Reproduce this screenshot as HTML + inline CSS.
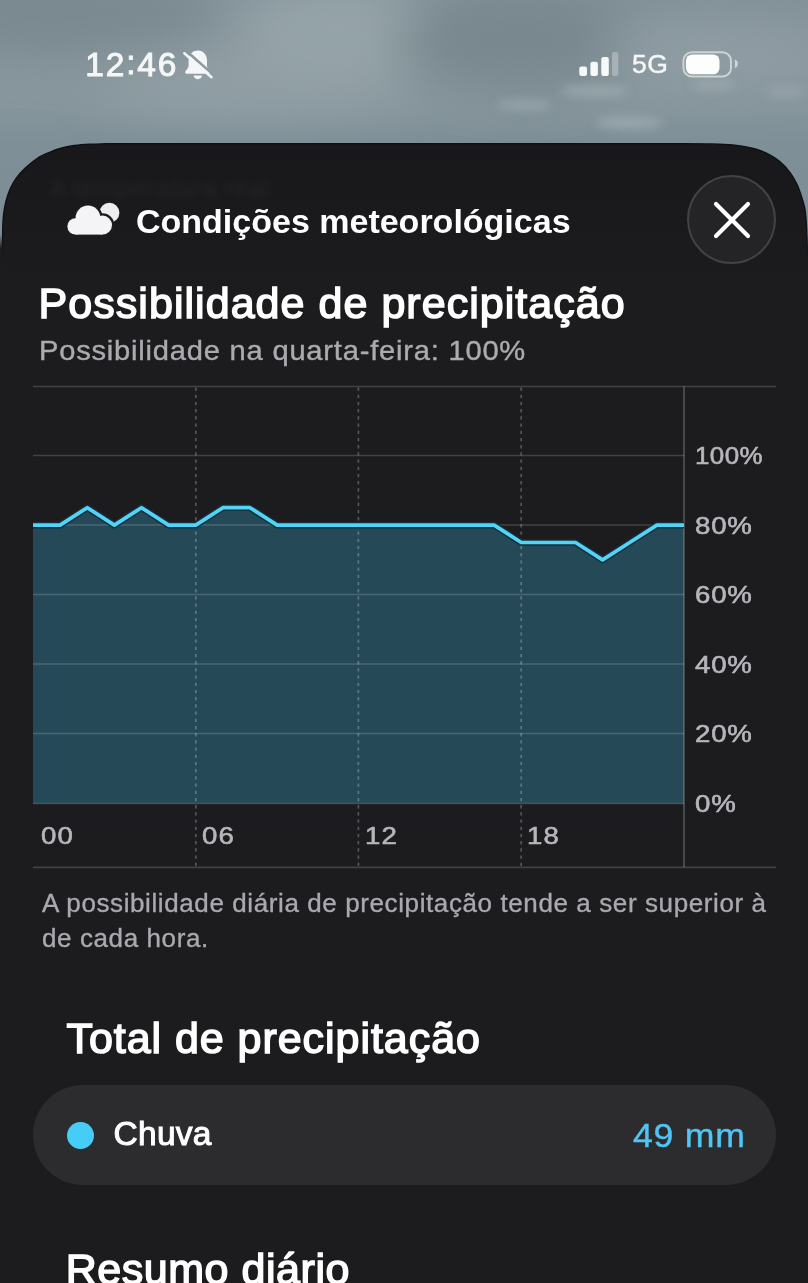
<!DOCTYPE html>
<html><head><meta charset="utf-8">
<style>
html,body{margin:0;padding:0;}
body{width:808px;height:1283px;overflow:hidden;position:relative;background:#8a989e;font-family:"Liberation Sans",sans-serif;}
.abs{position:absolute;white-space:nowrap;line-height:1;}
#sky{position:absolute;left:0;top:0;width:808px;height:1283px;}
</style></head><body>
<svg id="sky" width="808" height="1283" viewBox="0 0 808 1283">
<defs>
<linearGradient id="sg" x1="0" y1="0" x2="0" y2="1283" gradientUnits="userSpaceOnUse">
<stop offset="0" stop-color="#86949b"/><stop offset="0.05" stop-color="#8b999f"/><stop offset="0.085" stop-color="#87969d"/><stop offset="0.112" stop-color="#7e8f97"/><stop offset="0.183" stop-color="#7c8d96"/><stop offset="0.189" stop-color="#454c51"/><stop offset="0.194" stop-color="#1c1c1e"/><stop offset="1" stop-color="#1c1c1e"/>
</linearGradient>
<filter id="b1" x="-50%" y="-80%" width="200%" height="260%"><feGaussianBlur stdDeviation="24"/></filter>
<filter id="b2" x="-50%" y="-100%" width="200%" height="300%"><feGaussianBlur stdDeviation="5"/></filter>
</defs>
<rect width="808" height="1283" fill="url(#sg)"/>
<g filter="url(#b1)">
<ellipse cx="50" cy="15" rx="170" ry="45" fill="#78878e" opacity="0.850"/>
<ellipse cx="340" cy="30" rx="100" ry="48" fill="#97a5ab" opacity="0.900"/>
<ellipse cx="250" cy="85" rx="150" ry="30" fill="#93a1a7" opacity="0.800"/>
<ellipse cx="520" cy="40" rx="125" ry="52" fill="#76858c" opacity="0.850"/>
<ellipse cx="720" cy="0" rx="120" ry="22" fill="#7a8990" opacity="0.700"/>
<ellipse cx="710" cy="45" rx="110" ry="32" fill="#919fa5" opacity="0.800"/>
</g>
<g filter="url(#b2)" fill="#a3b0b5">
<ellipse cx="594" cy="91" rx="34" ry="5.500" opacity="0.700"/>
<ellipse cx="524" cy="105" rx="27" ry="5" opacity="0.600"/>
<ellipse cx="629" cy="123" rx="34" ry="6" opacity="0.700"/>
<ellipse cx="714" cy="85" rx="22" ry="5" opacity="0.600"/>
<ellipse cx="785" cy="92" rx="20" ry="5" opacity="0.500"/>
</g>
</svg>
<svg class="abs" id="sheet" style="left:0;top:0" width="808" height="1283" viewBox="0 0 808 1283">
<defs><linearGradient id="shg" x1="0" y1="143" x2="0" y2="290" gradientUnits="userSpaceOnUse"><stop offset="0" stop-color="#18181a"/><stop offset="1" stop-color="#1c1c1e"/></linearGradient><linearGradient id="edg" x1="0" y1="143" x2="0" y2="300" gradientUnits="userSpaceOnUse"><stop offset="0" stop-color="#0d1114"/><stop offset="0.6" stop-color="#0d1114"/><stop offset="0.75" stop-color="#1c1c1e"/><stop offset="1" stop-color="#1c1c1e"/></linearGradient></defs>
<path d="M2.6 300.0C2.6 293.7 2.6 272.0 2.6 262.0C2.6 252.0 2.6 245.9 2.6 240.0C2.6 234.1 2.6 230.9 2.8 226.6C3.0 222.3 3.1 218.3 3.6 214.2C4.1 210.1 4.8 205.9 5.8 201.8C6.8 197.7 8.2 193.4 9.9 189.5C11.6 185.6 13.6 181.8 16.1 178.3C18.6 174.8 21.3 171.7 24.8 168.4C28.3 165.1 33.0 161.2 37.1 158.5C41.2 155.8 45.4 154.1 49.5 152.3C53.6 150.6 57.8 149.1 61.9 148.0C66.0 146.9 69.6 146.1 74.3 145.5C79.0 144.9 84.7 144.5 90.0 144.2C95.3 143.9 100.2 143.9 106.0 143.8C111.8 143.7 121.8 143.7 125.0 143.7L683.0 143.7C687.2 143.7 699.7 143.7 708.0 143.9C716.3 144.1 725.6 144.2 732.8 144.9C740.0 145.6 745.5 146.6 751.3 148.0C757.1 149.4 762.6 151.3 767.4 153.6C772.1 155.9 776.1 158.5 779.8 161.6C783.5 164.7 786.8 168.3 789.7 172.1C792.6 175.9 795.1 180.4 797.1 184.5C799.1 188.6 800.3 193.0 801.6 196.9C802.9 200.8 803.9 203.9 804.7 208.0C805.5 212.1 805.8 216.3 806.2 221.6C806.6 226.9 806.8 233.3 806.9 240.0C807.0 246.7 807.0 252.0 807.0 262.0C807.0 272.0 807.0 293.7 807.0 300.0V1283H2.6Z" fill="url(#shg)"/>
<path d="M2.6 300.0C2.6 293.7 2.6 272.0 2.6 262.0C2.6 252.0 2.6 245.9 2.6 240.0C2.6 234.1 2.6 230.9 2.8 226.6C3.0 222.3 3.1 218.3 3.6 214.2C4.1 210.1 4.8 205.9 5.8 201.8C6.8 197.7 8.2 193.4 9.9 189.5C11.6 185.6 13.6 181.8 16.1 178.3C18.6 174.8 21.3 171.7 24.8 168.4C28.3 165.1 33.0 161.2 37.1 158.5C41.2 155.8 45.4 154.1 49.5 152.3C53.6 150.6 57.8 149.1 61.9 148.0C66.0 146.9 69.6 146.1 74.3 145.5C79.0 144.9 84.7 144.5 90.0 144.2C95.3 143.9 100.2 143.9 106.0 143.8C111.8 143.7 121.8 143.7 125.0 143.7L683.0 143.7C687.2 143.7 699.7 143.7 708.0 143.9C716.3 144.1 725.6 144.2 732.8 144.9C740.0 145.6 745.5 146.6 751.3 148.0C757.1 149.4 762.6 151.3 767.4 153.6C772.1 155.9 776.1 158.5 779.8 161.6C783.5 164.7 786.8 168.3 789.7 172.1C792.6 175.9 795.1 180.4 797.1 184.5C799.1 188.6 800.3 193.0 801.6 196.9C802.9 200.8 803.9 203.9 804.7 208.0C805.5 212.1 805.8 216.3 806.2 221.6C806.6 226.9 806.8 233.3 806.9 240.0C807.0 246.7 807.0 252.0 807.0 262.0C807.0 272.0 807.0 293.7 807.0 300.0" fill="none" stroke="url(#edg)" stroke-width="1.400"/>
</svg>
<div class="abs" id="ghost" style="left:50px;top:176px;font-size:25px;color:#fff;opacity:0.042;filter:blur(3px);letter-spacing:0.800px;">A temperatura real</div>

<!-- status bar -->
<div class="abs" id="time" style="left:85.300px;top:47.600px;font-size:33.500px;color:#f4f6f7;letter-spacing:1.820px;-webkit-text-stroke:1px #f4f6f7;">12<span style="position:relative;top:-1.800px">:</span>46</div>
<svg class="abs" id="bell" style="left:182px;top:49px" width="32" height="32" viewBox="0 0 32 32">
<defs><mask id="bm"><rect width="32" height="32" fill="#fff"/><line x1="2.600" y1="0.400" x2="31.500" y2="25.800" stroke="#000" stroke-width="2.600"/></mask></defs>
<g fill="#f4f6f7" mask="url(#bm)">
<path d="M15.800 1.500C10 1.500 6.600 6 6.600 11.500V16.500C6.600 18.500 5.500 20 3.600 22C2.600 23.200 3.200 24.800 4.800 24.800H26.800C28.400 24.800 29 23.200 28 22C26.100 20 25 18.500 25 16.500V11.500C25 6 21.600 1.500 15.800 1.500Z"/>
<path d="M11.600 26.600H20C20 28.600 18.200 30.200 15.800 30.200S11.600 28.600 11.600 26.600Z"/>
</g>
<line x1="2.300" y1="4.200" x2="29.500" y2="28.200" stroke="#f4f6f7" stroke-width="2.500" stroke-linecap="round"/>
</svg>
<svg class="abs" id="sig" style="left:576px;top:48px" width="48" height="32" viewBox="0 0 48 32">
<rect x="3.300" y="18.500" width="7.700" height="9.500" rx="2" fill="#f6f8f9"/>
<rect x="14.400" y="13.800" width="7.500" height="14.200" rx="2" fill="#f6f8f9"/>
<rect x="25.300" y="9" width="7.500" height="19" rx="2" fill="#f6f8f9"/>
<rect x="36" y="4" width="6.300" height="24" rx="2" fill="#f6f8f9" opacity="0.300"/>
</svg>
<div class="abs" id="fiveg" style="left:632px;top:51px;font-size:26.500px;color:#f4f6f7;-webkit-text-stroke:0.450px #f4f6f7;letter-spacing:0.500px;">5G</div>
<svg class="abs" id="bat" style="left:680px;top:48px" width="62" height="32" viewBox="0 0 62 32">
<rect x="3.400" y="4.200" width="47.600" height="24.400" rx="8.600" fill="none" stroke="#f6f8f9" stroke-opacity="0.600" stroke-width="2"/>
<rect x="5.900" y="6.500" width="33.600" height="19.800" rx="6.300" fill="#fcfdfd"/>
<path d="M54.800 11.600v8.600c1.900-.5 3-2.200 3-4.300s-1.100-3.800-3-4.300z" fill="#f6f8f9" opacity="0.600"/>
</svg>

<!-- header -->
<svg class="abs" id="cloud" style="left:64px;top:198px" width="60" height="44" viewBox="0 0 60 44">
<circle cx="45.400" cy="14.800" r="10" fill="#ededf0"/>
<g fill="#1c1c1e" stroke="#1c1c1e" stroke-width="4.600">
<circle cx="11.600" cy="28.400" r="8.200"/><circle cx="24" cy="20" r="12.400"/><circle cx="38.500" cy="27.100" r="9.500"/><rect x="11.600" y="22" width="26.900" height="14.600"/>
</g>
<g fill="#f4f4f6">
<circle cx="11.600" cy="28.400" r="8.200"/><circle cx="24" cy="20" r="12.400"/><circle cx="38.500" cy="27.100" r="9.500"/><rect x="11.600" y="22" width="26.900" height="14.600"/>
</g>
</svg>
<div class="abs" id="hdr" style="left:136px;top:203.600px;font-size:34px;font-weight:bold;color:#fff;">Condições meteorológicas</div>
<div class="abs" id="close" style="left:687.300px;top:175.300px;width:89px;height:89px;border-radius:50%;background:#242426;border:2px solid #434346;box-sizing:border-box;"></div>
<svg class="abs" style="left:687.800px;top:175.800px" width="88" height="88" viewBox="0 0 88 88">
<path d="M28 28L60 60M60 28L28 60" stroke="#fff" stroke-width="4.200" stroke-linecap="round"/>
</svg>

<div class="abs" id="t1" style="left:38.600px;top:282.350px;font-size:43px;letter-spacing:1.040px;color:#fff;-webkit-text-stroke:1.500px #fff;">Possibilidade de precipitação</div>
<div class="abs" id="t2" style="left:39px;top:336.700px;font-size:28px;letter-spacing:0.750px;transform:scaleX(1.040);transform-origin:0 0;color:#aaaab0;-webkit-text-stroke:0.400px #aaaab0;">Possibilidade na quarta-feira: 100%</div>

<!-- chart -->
<svg class="abs" id="chart" style="left:0;top:380px" width="808" height="500" viewBox="0 380 808 500">
<polygon id="area" points="33.00,525.10 60.12,525.10 87.25,507.70 114.38,525.10 141.50,507.70 168.62,525.10 195.75,525.10 222.88,507.70 250.00,507.70 277.12,525.10 304.25,525.10 331.38,525.10 358.50,525.10 385.62,525.10 412.75,525.10 439.88,525.10 467.00,525.10 494.12,525.10 521.25,542.50 548.38,542.50 575.50,542.50 602.62,559.90 629.75,542.50 656.88,525.10 684.00,525.10 684,803.5 33,803.5" fill="#254957"/>
<g stroke="#fff" stroke-opacity="0.170" stroke-width="1.700">
<line x1="33" y1="386.500" x2="776" y2="386.500"/>
<line x1="33" y1="455.500" x2="684" y2="455.500"/>
<line x1="33" y1="525" x2="684" y2="525"/>
<line x1="33" y1="594.500" x2="684" y2="594.500"/>
<line x1="33" y1="664" x2="684" y2="664"/>
<line x1="33" y1="733.500" x2="684" y2="733.500"/>
<line x1="33" y1="803.500" x2="684" y2="803.500"/>
<line x1="33" y1="867.300" x2="776" y2="867.300"/>
</g>
<line x1="684" y1="386.500" x2="684" y2="867.300" stroke="#fff" stroke-opacity="0.220" stroke-width="1.800"/>
<g stroke="#fff" stroke-opacity="0.260" stroke-width="1.700" stroke-dasharray="3.300 3.900">
<line x1="195.800" y1="387.500" x2="195.800" y2="866"/>
<line x1="358.400" y1="387.500" x2="358.400" y2="866"/>
<line x1="521.200" y1="387.500" x2="521.200" y2="866"/>
</g>
<polyline id="lineo" points="33.00,525.10 60.12,525.10 87.25,507.70 114.38,525.10 141.50,507.70 168.62,525.10 195.75,525.10 222.88,507.70 250.00,507.70 277.12,525.10 304.25,525.10 331.38,525.10 358.50,525.10 385.62,525.10 412.75,525.10 439.88,525.10 467.00,525.10 494.12,525.10 521.25,542.50 548.38,542.50 575.50,542.50 602.62,559.90 629.75,542.50 656.88,525.10 684.00,525.10" fill="none" stroke="#14303a" stroke-width="6.600" stroke-linejoin="round"/>
<polyline id="line" points="33.00,525.10 60.12,525.10 87.25,507.70 114.38,525.10 141.50,507.70 168.62,525.10 195.75,525.10 222.88,507.70 250.00,507.70 277.12,525.10 304.25,525.10 331.38,525.10 358.50,525.10 385.62,525.10 412.75,525.10 439.88,525.10 467.00,525.10 494.12,525.10 521.25,542.50 548.38,542.50 575.50,542.50 602.62,559.90 629.75,542.50 656.88,525.10 684.00,525.10" fill="none" stroke="#53d3f8" stroke-width="3.700" stroke-linejoin="round"/>
</svg>
<div class="abs ylab" style="left:695px;top:444.1px;transform:scaleX(1.08);letter-spacing:0.4px;">100%</div>
<div class="abs ylab" style="left:695px;top:513.8px;">80%</div>
<div class="abs ylab" style="left:695px;top:583.3px;">60%</div>
<div class="abs ylab" style="left:695px;top:652.8px;">40%</div>
<div class="abs ylab" style="left:695px;top:722.3px;">20%</div>
<div class="abs ylab" style="left:695px;top:791.9px;">0%</div>
<div class="abs xlab" style="left:40.5px;top:824px;">00</div>
<div class="abs xlab" style="left:201.5px;top:824px;">06</div>
<div class="abs xlab" style="left:364.5px;top:824px;">12</div>
<div class="abs xlab" style="left:526.5px;top:824px;">18</div>
<style>
.ylab,.xlab{font-size:24px;color:#b6b6bc;-webkit-text-stroke:0.6px #b6b6bc;transform-origin:0 0;}
.ylab{transform:scaleX(1.15);letter-spacing:0.7px;}
.xlab{transform:scaleX(1.15);letter-spacing:1.1px;}
</style>

<div class="abs" id="note" style="left:42px;top:885.900px;font-size:26px;letter-spacing:0.600px;line-height:35.500px;color:#a9a9af;-webkit-text-stroke:0.350px #a9a9af;white-space:normal;width:760px;">A possibilidade diária de precipitação tende a ser superior à<br>de cada hora.</div>

<div class="abs" id="t3" style="left:66.500px;top:1016.850px;font-size:43px;letter-spacing:0.950px;color:#fff;-webkit-text-stroke:1.500px #fff;">Total de precipitação</div>
<div class="abs" id="pill" style="left:33px;top:1085px;width:743px;height:100px;border-radius:50px;background:#2c2c2e;"></div>
<div class="abs" id="dot" style="left:67.200px;top:1121.600px;width:27px;height:27px;border-radius:50%;background:#45cdf7;"></div>
<div class="abs" id="chuva" style="left:113.600px;top:1117.400px;font-size:33.500px;letter-spacing:0.250px;color:#fff;-webkit-text-stroke:1px #fff;">Chuva</div>
<div class="abs" id="mm" style="left:633px;top:1118.800px;font-size:33px;letter-spacing:0.700px;transform:scaleX(1.080);transform-origin:0 0;color:#4fc5f3;-webkit-text-stroke:0.400px #4fc5f3;">49 mm</div>
<div class="abs" id="t4" style="left:65.700px;top:1248.200px;font-size:43px;letter-spacing:0.540px;color:#fff;-webkit-text-stroke:1.500px #fff;">Resumo diário</div>
</body></html>
